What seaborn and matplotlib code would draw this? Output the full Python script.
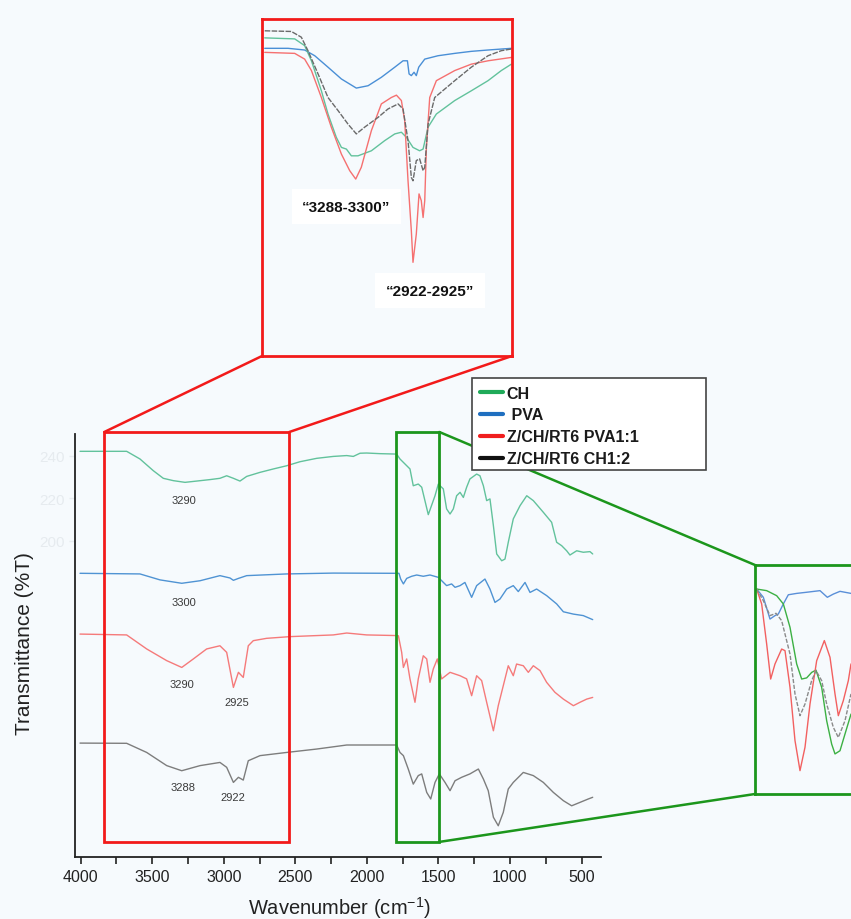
import numpy as np
import pandas as pd
import matplotlib
matplotlib.use("Agg")
import matplotlib.pyplot as plt
import seaborn as sns
from matplotlib.patches import Rectangle, ConnectionPatch
from matplotlib.lines import Line2D
from matplotlib.ticker import MultipleLocator

# ---------------- main spectra (wavenumber, transmittance) ----------------
ch_wn = [4005, 3679, 3586, 3493, 3423, 3353, 3271, 3190, 3096, 3027, 2980, 2933, 2887, 2840,
         2747, 2654, 2561, 2468, 2351, 2235, 2141, 2095, 2048, 2002, 1909, 1792,
         1769, 1699, 1676, 1641, 1617, 1571, 1524, 1501, 1466, 1443, 1419, 1396, 1373, 1349,
         1326, 1303, 1280, 1233, 1210, 1186, 1163, 1140, 1116, 1093, 1058, 1035, 1012, 977,
         930, 883, 837, 767, 709, 674, 639, 604, 581, 534, 488, 441, 422]
ch_t = [242.2, 242.2, 238.6, 233.1, 229.5, 228.4, 227.6, 228.2, 228.9, 229.5, 230.7, 229.5, 228.2, 230.4,
        232.3, 233.9, 235.4, 237.3, 238.9, 239.8, 240.2, 239.8, 241.3, 241.4, 241.1, 240.9,
        238.6, 233.9, 226.0, 226.8, 225.3, 212.4, 221.3, 226.8, 224.5, 215.1, 212.7, 215.1, 221.3, 222.9,
        220.5, 225.3, 229.2, 231.5, 230.7, 226.0, 219.0, 219.8, 207.2, 193.9, 190.7, 191.5, 199.4, 210.4,
        216.6, 221.3, 219.0, 213.5, 208.8, 199.4, 197.8, 195.4, 193.4, 195.4, 194.7, 195.0, 193.9]

pva_wn = [4005, 3586, 3446, 3294, 3166, 3027, 2957, 2933, 2898, 2840, 2561, 2235, 1792,
          1776, 1764, 1745, 1722, 1687, 1652, 1606, 1559, 1501, 1443, 1408, 1384, 1349, 1315,
          1268, 1233, 1175, 1140, 1105, 1070, 1023, 977, 942, 895, 860, 814, 744, 674, 627,
          557, 488, 422]
pva_t = [184.8, 184.5, 181.7, 180.1, 181.3, 183.7, 182.6, 181.5, 182.4, 183.7, 184.5, 184.9, 184.8,
         184.8, 182.1, 179.8, 182.4, 183.4, 184.0, 183.4, 184.0, 182.9, 179.0, 179.8, 178.2, 179.0, 180.5,
         173.5, 179.0, 182.1, 177.4, 171.1, 172.7, 177.4, 179.0, 176.2, 180.5, 175.8, 177.4, 174.3, 170.4, 166.7,
         165.6, 164.9, 163.0]

pva11_wn = [4005, 3679, 3539, 3399, 3294, 3213, 3120, 3027, 2980, 2933, 2898, 2864, 2829, 2794,
            2701, 2537, 2235, 2141, 2002, 1792,
            1780, 1757, 1745, 1722, 1699, 1664, 1641, 1606, 1582, 1559, 1536, 1508, 1478, 1419,
            1349, 1303, 1268, 1233, 1198, 1163, 1116, 1082, 1047, 1012, 977, 954, 907, 872, 837,
            790, 744, 686, 627, 557, 511, 464, 422]
pva11_t = [156.2, 155.8, 149.2, 143.7, 140.5, 144.5, 149.2, 150.7, 147.6, 131.1, 138.2, 135.8, 150.7, 153.1,
           154.2, 155.0, 155.8, 156.7, 155.8, 155.5,
           155.4, 147.6, 140.5, 144.5, 135.1, 124.1, 135.1, 146.0, 144.5, 133.5, 139.8, 144.5, 135.1, 138.2,
           136.6, 135.1, 127.2, 136.6, 134.3, 124.1, 110.7, 122.5, 131.9, 141.3, 136.6, 142.1, 141.3, 138.2, 141.3,
           139.0, 133.5, 128.8, 125.6, 122.5, 124.1, 125.6, 126.4]

ch12_wn = [4005, 3679, 3539, 3399, 3294, 3166, 3027, 2980, 2933, 2898, 2864, 2829, 2747, 2561,
           2351, 2141, 1792,
           1769, 1745, 1711, 1676, 1641, 1617, 1582, 1554, 1524, 1494, 1454, 1419, 1384, 1338,
           1280, 1221, 1186, 1152, 1116, 1082, 1047, 1012, 977, 907, 837, 767, 697, 627, 569,
           511, 453, 422]
ch12_t = [104.9, 104.8, 100.5, 94.3, 91.9, 94.3, 95.8, 93.5, 86.4, 88.8, 87.5, 96.6, 99.0, 100.5,
          102.1, 104.0, 104.0,
          100.5, 99.0, 92.7, 85.6, 89.6, 90.4, 81.7, 78.6, 86.4, 90.4, 86.4, 82.5, 87.2, 88.8,
          90.4, 92.7, 88.0, 82.5, 70.0, 66.0, 72.3, 83.3, 86.4, 91.1, 89.6, 86.4, 81.7, 77.8, 75.4,
          77.0, 78.6, 79.4]

peak_text = ["3290", "3300", "3290", "2925", "3288", "2922"]
peak_wn = [3278, 3278, 3292, 2908, 3285, 2935]
peak_t = [219.3, 171.3, 132.7, 124.2, 84.2, 79.5]

x_ticks = [4000, 3500, 3000, 2500, 2000, 1500, 1000, 500]
y_ticks = [200, 220, 240]

# ---------------- upper (red) zoom inset: 3288-3300 / 2922-2925 region ----------------
za_blue_wn = [3909, 3754, 3644, 3577, 3489, 3400, 3301, 3223, 3135, 3046, 2991, 2962, 2951, 2936,
              2918, 2903, 2887, 2847, 2759, 2648, 2538, 2427, 2272]
za_blue_t = [91.3, 91.3, 90.8, 89.1, 85.7, 82.2, 79.5, 80.2, 82.7, 85.7, 87.6, 87.6, 83.7, 83.2,
             84.2, 83.2, 85.7, 88.1, 89.1, 89.8, 90.4, 90.8, 91.3]
za_grey_wn = [3909, 3732, 3666, 3622, 3555, 3489, 3422, 3356, 3301, 3246, 3157, 3091, 3024, 2991,
              2958, 2936, 2925, 2903, 2881, 2858, 2847, 2825, 2781, 2648, 2538, 2427, 2339, 2272]
za_grey_t = [96.5, 96.3, 94.6, 90.6, 83.7, 76.7, 72.8, 68.8, 65.9, 67.9, 70.8, 73.3, 74.8, 73.3,
             63.9, 53.0, 52.0, 58.0, 58.5, 55.0, 56.0, 68.8, 76.7, 81.7, 85.7, 89.1, 90.6, 91.1]
za_green_wn = [3909, 3710, 3644, 3599, 3533, 3489, 3434, 3400, 3367, 3334, 3290, 3201, 3113, 3046,
               3002, 2969, 2925, 2881, 2858, 2825, 2770, 2648, 2538, 2427, 2339, 2272]
za_green_t = [94.4, 94.1, 92.1, 87.6, 78.7, 71.8, 64.9, 61.9, 61.4, 59.4, 59.4, 60.9, 63.9, 65.9,
              66.4, 64.9, 61.9, 60.9, 61.4, 67.9, 71.8, 75.8, 78.7, 81.7, 84.7, 86.6]
za_red_wn = [3909, 3710, 3644, 3599, 3533, 3467, 3400, 3345, 3305, 3268, 3201, 3135, 3069, 3035,
             3002, 2980, 2958, 2936, 2925, 2903, 2885, 2870, 2858, 2847, 2836, 2814, 2770, 2648,
             2538, 2427, 2272]
za_red_t = [90.1, 89.8, 88.1, 84.7, 76.7, 67.9, 59.9, 55.0, 52.5, 56.0, 66.9, 74.8, 76.7, 77.4,
            75.8, 69.8, 52.0, 37.2, 27.8, 36.2, 48.1, 46.1, 41.1, 46.1, 61.9, 76.7, 81.7, 84.7,
            86.6, 87.6, 88.6]
za_text = ["\u201c3288-3300\u201d", "\u201c2922-2925\u201d"]
za_text_wn = [3367, 2814]
za_text_t = [44.3, 19.4]

# ---------------- right (green) zoom inset: 1800-1500 region ----------------
zb_blue_wn = [1797.5, 1787.5, 1777.5, 1770, 1765, 1757.5, 1750, 1737.5, 1722.5, 1702.5, 1691.5,
              1682.5, 1672.5, 1656]
zb_blue_t = [89.5, 85.9, 76.4, 77.9, 78.6, 83.0, 87.0, 87.6, 88.1, 88.8, 85.9, 87.3, 88.5, 87.6]
zb_red_wn = [1797.5, 1790, 1782.5, 1776.5, 1770, 1760, 1755, 1747.5, 1740, 1732.5, 1725, 1717.5,
             1707.5, 1696, 1687.5, 1680, 1675, 1667.5, 1660, 1656]
zb_red_t = [89.5, 83.0, 65.5, 50.2, 56.8, 63.3, 62.6, 46.6, 23.3, 10.2, 20.4, 39.3,
            58.2, 67.0, 59.7, 43.7, 34.2, 40.8, 49.5, 56.8]
zb_grey_wn = [1797.5, 1787.5, 1777.5, 1768.5, 1760, 1747.5, 1740, 1732.5, 1725, 1715, 1708.5,
              1700, 1692.5, 1682.5, 1675, 1665, 1656]
zb_grey_t = [89.5, 84.4, 77.9, 78.9, 75.7, 61.1, 43.7, 34.2, 39.3, 49.5, 53.9,
             49.5, 39.3, 29.1, 24.7, 32.0, 43.7]
zb_green_wn = [1797.5, 1782.5, 1767.5, 1757.5, 1747.5, 1737.5, 1730, 1722.5, 1715, 1708.5, 1700,
               1692.5, 1685, 1680, 1672.5, 1665, 1656]
zb_green_t = [89.5, 88.8, 86.6, 83.0, 72.8, 56.8, 50.2, 50.7, 53.1, 54.1, 46.6,
              32.0, 21.8, 17.5, 18.9, 26.2, 34.9]

legend_labels = ["CH", " PVA", "Z/CH/RT6 PVA1:1", "Z/CH/RT6 CH1:2"]
legend_colors = ["#1faa59", "#1f6fc0", "#f01e1e", "#111111"]

# ---------------- styling ----------------
sns.set_style("ticks")
plt.rcParams['font.family'] = ['Liberation Sans', 'DejaVu Sans']
plt.rcParams['mathtext.fontset'] = 'custom'
plt.rcParams['mathtext.rm'] = 'Liberation Sans'
BG = '#f6fafd'
W, H = 851, 920

fig = plt.figure(figsize=(W / 100, H / 100), dpi=100, facecolor=BG)

def fx(px):
    return px / W

def fy(py):
    return 1 - py / H

ax = fig.add_axes([fx(75), fy(858), fx(601) - fx(75), fy(435) - fy(858)])
ax.set_facecolor(BG)

main_series = [
    (ch_wn, ch_t, "#62c29c"),
    (pva_wn, pva_t, "#4f93d3"),
    (pva11_wn, pva11_t, "#f57a7a"),
    (ch12_wn, ch12_t, "#7d7d7d"),
]
for wn, t, c in main_series:
    sns.lineplot(x=wn, y=t, ax=ax, color=c, lw=1.0, sort=False, estimator=None, legend=False)

for s, w, t in zip(peak_text, peak_wn, peak_t):
    ax.text(w, t, s, fontsize=8, color='#3a3a3a', ha='center', va='center')

ax.set_xlim(4040, 364)
ax.set_ylim(51.3, 250.35)
ax.set_xticks(x_ticks)
ax.xaxis.set_minor_locator(MultipleLocator(250))
ax.set_yticks(y_ticks)
for side in ['top', 'right']:
    ax.spines[side].set_visible(False)
for side in ['left', 'bottom']:
    ax.spines[side].set_color('#222222')
    ax.spines[side].set_linewidth(1.3)
ax.tick_params(axis='x', which='both', length=5, width=1.2, color='#222222',
               labelsize=11.5, labelcolor='#222222', pad=4)
ax.tick_params(axis='y', length=4, width=1, color='#e6ebef', labelsize=11,
               labelcolor='#e6ebef')
ax.set_xlabel(r'Wavenumber (cm$^{-1}$)', fontsize=14.5, color='#222222')
ax.set_ylabel('Transmittance (%T)', fontsize=15, color='#222222')
ax.xaxis.set_label_coords(0.502, -0.088)
ax.yaxis.set_label_coords(-0.078, 0.506)

RED = '#f21a1a'
GREEN = '#1c961c'
ax.add_patch(Rectangle((3835, 58.4), 2542 - 3835, 251.3 - 58.4, fill=False,
                       ec=RED, lw=2.0, clip_on=False, zorder=5))
ax.add_patch(Rectangle((1798, 58.4), 1494 - 1798, 251.3 - 58.4, fill=False,
                       ec=GREEN, lw=2.0, clip_on=False, zorder=5))

# ---------------- upper inset ----------------
axA = fig.add_axes([fx(262), fy(357), fx(512) - fx(262), fy(20) - fy(357)])
axA.set_facecolor(BG)
sns.lineplot(x=za_blue_wn, y=za_blue_t, ax=axA, color='#4a8fd6', lw=1.0, sort=False, estimator=None)
sns.lineplot(x=za_green_wn, y=za_green_t, ax=axA, color='#62c29c', lw=1.0, sort=False, estimator=None)
sns.lineplot(x=za_red_wn, y=za_red_t, ax=axA, color='#f57070', lw=1.0, sort=False, estimator=None)
sns.lineplot(x=za_grey_wn, y=za_grey_t, ax=axA, color='#6a6a6a', lw=1.0, sort=False, estimator=None,
             linestyle=(0, (4, 1)))
axA.set_xlim(3927, 2268)
axA.set_ylim(0, 100)
axA.set_xticks([])
axA.set_yticks([])
axA.set_xlabel('')
axA.set_ylabel('')
for sp in axA.spines.values():
    sp.set_color(RED)
    sp.set_linewidth(2.0)
for s, w, t in zip(za_text, za_text_wn, za_text_t):
    axA.text(w, t, s, fontsize=11, fontweight='bold', color='#111111', ha='center', va='center',
             bbox=dict(boxstyle='square,pad=0.7', fc='white', ec='none'))

# ---------------- right inset ----------------
axB = fig.add_axes([fx(755), fy(795), fx(955) - fx(755), fy(566) - fy(795)])
axB.set_facecolor(BG)
sns.lineplot(x=zb_blue_wn, y=zb_blue_t, ax=axB, color='#5a8fd8', lw=1.0, sort=False, estimator=None)
sns.lineplot(x=zb_green_wn, y=zb_green_t, ax=axB, color='#3cb043', lw=1.0, sort=False, estimator=None)
sns.lineplot(x=zb_red_wn, y=zb_red_t, ax=axB, color='#f26060', lw=1.0, sort=False, estimator=None)
sns.lineplot(x=zb_grey_wn, y=zb_grey_t, ax=axB, color='#8a8a8a', lw=1.0, sort=False, estimator=None,
             linestyle=(0, (3, 1.2)))
axB.set_xlim(1800, 1500)
axB.set_ylim(0, 100)
axB.set_xticks([])
axB.set_yticks([])
axB.set_xlabel('')
axB.set_ylabel('')
for sp in axB.spines.values():
    sp.set_color(GREEN)
    sp.set_linewidth(2.0)

# ---------------- connector lines ----------------
for xa, xb in [(3835, 0), (2542, 1)]:
    fig.add_artist(ConnectionPatch(xyA=(xa, 251.3), coordsA=ax.transData,
                                   xyB=(xb, 0), coordsB=axA.transAxes,
                                   color=RED, lw=1.8, zorder=2))
for ya, yb in [(251.3, 1), (58.4, 0)]:
    fig.add_artist(ConnectionPatch(xyA=(1494, ya), coordsA=ax.transData,
                                   xyB=(0, yb), coordsB=axB.transAxes,
                                   color=GREEN, lw=1.8, zorder=2))

# ---------------- legend (box drawn separately to match its width) ----------------
fig.add_artist(Rectangle((fx(472), fy(471)), fx(706) - fx(472), fy(379) - fy(471),
                         transform=fig.transFigure, fc='white', ec='#444444', lw=1.2, zorder=9))
handles = [Line2D([], [], color=c, lw=3) for c in legend_colors]
leg = fig.legend(handles, legend_labels, loc='upper left', bbox_to_anchor=(fx(474), fy(381)),
                 borderaxespad=0, frameon=False, prop={'weight': 'bold', 'size': 11.5},
                 handlelength=1.45, handletextpad=0.25, labelspacing=0.43, borderpad=0.35)
leg.set_zorder(10)
for txt in leg.get_texts():
    txt.set_color('#1a1a1a')

fig.savefig('out.png', dpi=100, facecolor=BG)
